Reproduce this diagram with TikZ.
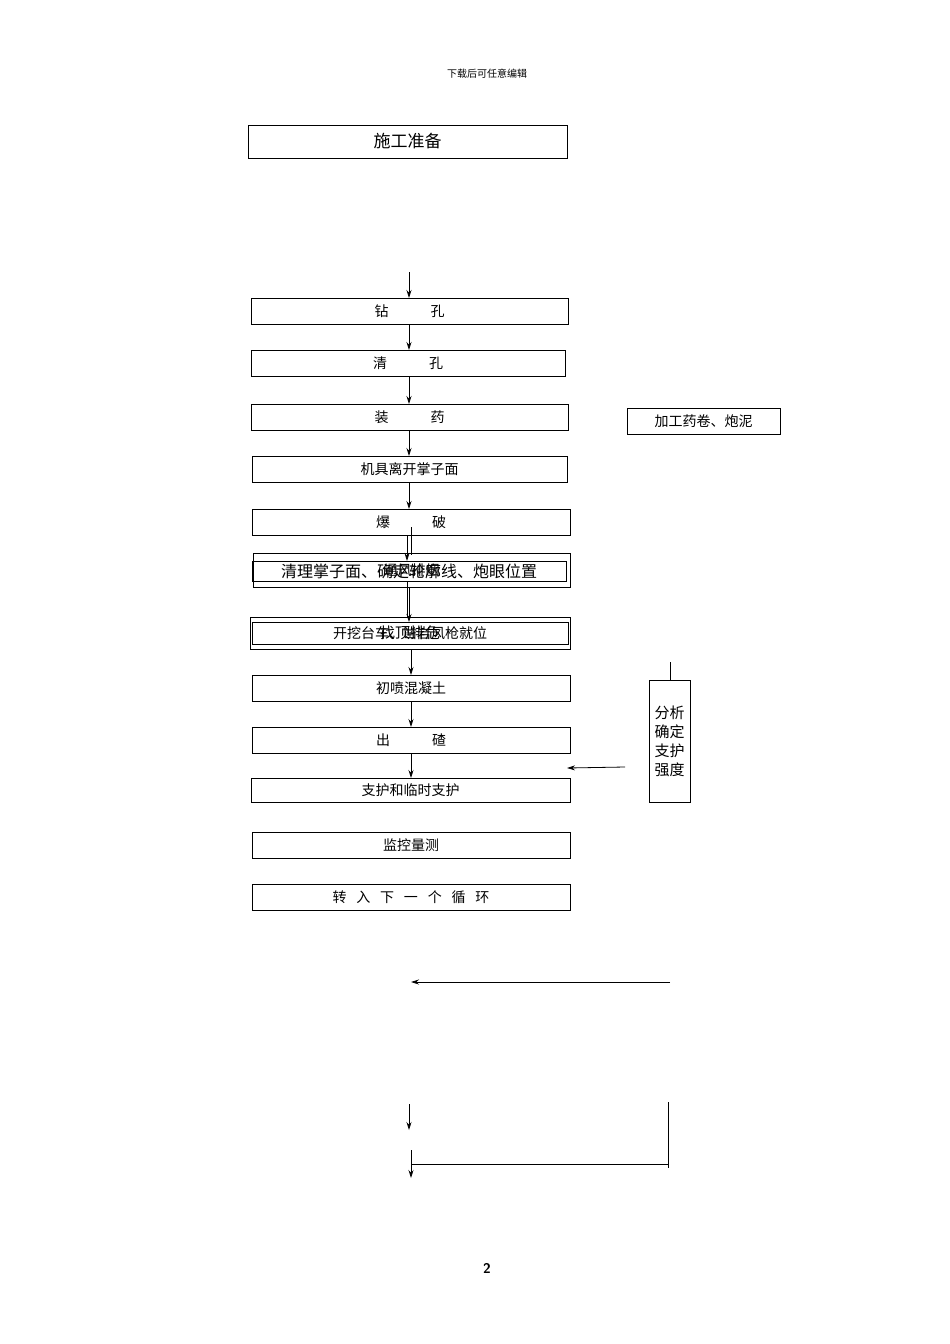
\documentclass[tikz,border=0pt]{standalone}
\usepackage{fontspec}
\newfontfamily\cjk{Noto Sans CJK SC}
\usetikzlibrary{arrows.meta}
\begin{document}
\begin{tikzpicture}[x=1pt,y=-1pt,
  bx/.style={draw,line width=0.8pt,fill=none},
  tx/.style={font=\cjk\fontsize{14}{16}\selectfont,inner sep=0pt},
  ar/.style={-{Stealth[length=8pt,width=5pt]},line width=0.8pt},
  ln/.style={line width=0.8pt}]
\useasboundingbox (0,0) rectangle (950,1344);
\node[font=\cjk\fontsize{10}{12}\selectfont] (hdr) at (487,74) {下载后可任意编辑};
\node[font=\sffamily\bfseries\fontsize{14}{16}\selectfont] (pg) at (487,1268) {2};
\newcommand{\bxn}[6]{\draw[bx] (#2,#3) rectangle (#4,#5); \node[tx] (#1) at ({(#2+#4)/2},{(#3+#5)/2}) {#6};}
\bxn{a}{248}{125}{567}{158}{\fontsize{17}{19}\selectfont 施工准备}
\bxn{b}{251}{298}{568}{324}{钻\hspace{3em}孔}
\bxn{c}{251}{350}{565}{376}{清\hspace{3em}孔}
\bxn{d}{251}{404}{568}{430}{装\hspace{3em}药}
\bxn{e}{627}{408}{780}{434}{加工药卷、炮泥}
\bxn{f}{252}{456}{567}{482}{机具离开掌子面}
\bxn{g}{252}{509}{570}{535}{爆\hspace{3em}破}
\bxn{h}{253}{553}{570}{587}{\raisebox{-5pt}{通风排烟}}
\bxn{i}{252}{561}{566}{581}{\fontsize{16}{18}\selectfont 清理掌子面、确定轮廓线、炮眼位置}
\bxn{j}{250}{617}{570}{649}{\raisebox{-2pt}{\fontsize{15}{17}\selectfont 找顶排危}}
\bxn{k}{252}{622}{568}{644}{开挖台车、凿岩风枪就位}
\bxn{l}{252}{675}{570}{701}{初喷混凝土}
\bxn{m}{252}{727}{570}{753}{出\hspace{3em}碴}
\bxn{n}{251}{778}{570}{802}{支护和临时支护}
\bxn{o}{252}{832}{570}{858}{监控量测}
\bxn{p}{252}{884}{570}{910}{转\hspace{0.7em}入\hspace{0.7em}下\hspace{0.7em}一\hspace{0.7em}个\hspace{0.7em}循\hspace{0.7em}环}
\draw[bx] (649,680) rectangle (690,802);
\node[tx,align=center,font=\cjk\fontsize{15}{19}\selectfont] (q) at (669.5,741) {分析\\确定\\支护\\强度};
\coordinate (q0) at (670,662);
\draw[ln] (q0) -- (670,680);
\coordinate (s0) at (409,272);
\draw[ar] (s0) -- (409,298);
\draw[ar] (409,324) -- (409,350);
\draw[ar] (409,376) -- (409,404);
\draw[ar] (409,430) -- (409,456);
\draw[ar] (409,482) -- (409,509);
\draw[ar] (407,535) -- (407,561);
\draw[ln] (411,527) -- (411,555);
\draw[ar] (409,587) -- (409,622);
\draw[ln] (407,581) -- (407,617);
\draw[ar] (411,649) -- (411,675);
\draw[ar] (411,701) -- (411,727);
\draw[ar] (411,753) -- (411,778);
\coordinate (r0) at (625,767);
\draw[ar] (r0) -- (567,768);
\coordinate (t0) at (670,982); \coordinate (t1) at (411,982);
\draw[ar] (t0) -- (t1);
\coordinate (u0) at (409,1104); \coordinate (u1) at (409,1130);
\draw[ar] (u0) -- (u1);
\coordinate (v0) at (668,1102); \coordinate (v1) at (668,1168); \coordinate (v2) at (411,1164);
\draw[ln] (v0) -- (v1);
\draw[ln] (v2) -- (668,1164);
\coordinate (w0) at (411,1150); \coordinate (w1) at (411,1178);
\draw[ar] (w0) -- (w1);
\end{tikzpicture}
\end{document}
